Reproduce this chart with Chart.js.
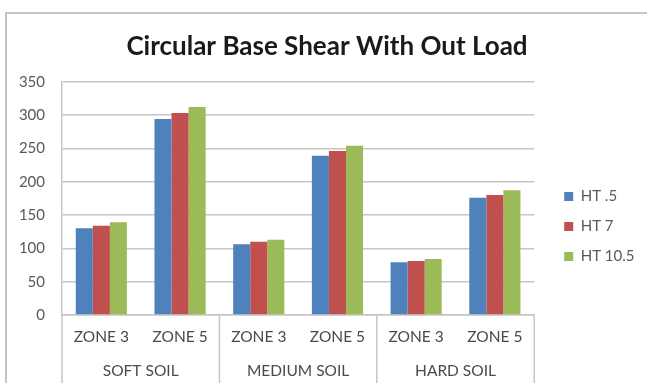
<!DOCTYPE html>
<html>
<head>
<meta charset="utf-8">
<script src="https://cdn.jsdelivr.net/npm/chart.js@4/dist/chart.umd.min.js"></script>
<style>
  html, body { margin: 0; padding: 0; background: #ffffff; }
  #wrap { position: relative; width: 647px; height: 383px; overflow: hidden; }
  #frame { position: absolute; left: 5px; top: 12px; width: 700px; height: 500px;
           border: 2px solid #c4c4c4; box-sizing: border-box; }
  #c { position: absolute; left: 0; top: 0; }
</style>
</head>
<body>
<div id="wrap">
  <div id="frame"></div>
  <canvas id="c" width="647" height="383"></canvas>
</div>
<script>
// Base shear (kN) for circular columns without load
const zones = ['ZONE 3', 'ZONE 5', 'ZONE 3', 'ZONE 5', 'ZONE 3', 'ZONE 5'];
const soils = ['SOFT SOIL', 'MEDIUM SOIL', 'HARD SOIL'];
const ht05  = [130, 294, 106, 239, 79, 176];
const ht7   = [134, 303, 110, 246, 81, 180];
const ht105 = [139, 312, 113, 254, 84, 187];
const yTicks = [0, 50, 100, 150, 200, 250, 300, 350];

const FONT = 'Lato, "Open Sans", sans-serif';
const LINE = '#c6c6c6';

// Separators between soil groups, running from the axis line down through both label rows
const groupDividers = {
  id: 'groupDividers',
  afterDraw(chart) {
    const x = chart.scales.x;
    const area = chart.chartArea;
    const ctx = chart.ctx;
    const per = zones.length / soils.length;
    const half = (x.getPixelForValue(1) - x.getPixelForValue(0)) / 2;
    ctx.save();
    ctx.strokeStyle = LINE;
    ctx.lineWidth = 1.5;
    for (let g = 0; g <= soils.length; g++) {
      const px = g === soils.length
        ? x.getPixelForValue(zones.length - 1) + half
        : x.getPixelForValue(g * per) - half;
      ctx.beginPath();
      ctx.moveTo(px, area.bottom);
      ctx.lineTo(px, chart.height);
      ctx.stroke();
    }
    ctx.restore();
  }
};

new Chart(document.getElementById('c'), {
  type: 'bar',
  data: {
    labels: zones,
    datasets: [
      { label: 'HT .5',   data: ht05,  backgroundColor: '#4f81bd' },
      { label: 'HT 7',    data: ht7,   backgroundColor: '#c0504d' },
      { label: 'HT 10.5', data: ht105, backgroundColor: '#9bbb59' }
    ]
  },
  options: {
    responsive: false,
    animation: false,
    devicePixelRatio: 1,
    layout: { padding: { left: 9.5, right: 2.5, top: 14, bottom: 0 } },
    datasets: { bar: { barPercentage: 1, categoryPercentage: 0.65, borderWidth: 0 } },
    plugins: {
      title: {
        display: true,
        text: 'Circular Base Shear With Out Load',
        color: '#1a1a1a',
        font: { family: FONT, size: 26, weight: 'bold' },
        padding: { top: 17, bottom: 19.5 }
      },
      legend: {
        position: 'right',
        align: 'center',
        title: { display: true, text: ' ', font: { size: 10 }, padding: { top: 44, bottom: 0 } },
        labels: {
          color: '#595959',
          font: { family: FONT, size: 15 },
          boxWidth: 9,
          boxHeight: 9,
          padding: 15
        }
      },
      tooltip: { enabled: false }
    },
    scales: {
      y: {
        min: 0,
        max: 350,
        afterBuildTicks(s) { s.ticks = yTicks.map(v => ({ value: v })); },
        afterFit(s) { s.width = 52.5; },
        grid: { color: LINE, lineWidth: 1.5, drawTicks: false },
        border: { color: LINE, width: 1.5 },
        ticks: { color: '#595959', font: { family: FONT, size: 15 }, padding: 17 }
      },
      x: {
        weight: 0,
        afterFit(s) { s.height = 30; },
        grid: { display: false, drawTicks: false },
        border: { color: LINE, width: 1.5 },
        ticks: { color: '#4a4a4a', font: { family: FONT, size: 15.5 }, padding: 13, maxRotation: 0, autoSkip: false }
      },
      soil: {
        type: 'category',
        position: 'bottom',
        weight: 1,
        labels: soils,
        offset: true,
        afterFit(s) { s.height = 38; },
        grid: { display: false, drawTicks: false },
        border: { display: false },
        ticks: { color: '#4a4a4a', font: { family: FONT, size: 15.5 }, padding: 17, maxRotation: 0, autoSkip: false }
      },
      spacer: {
        type: 'linear',
        position: 'right',
        display: true,
        afterFit(s) { s.width = 15; },
        grid: { display: false, drawTicks: false },
        border: { display: false },
        ticks: { display: false }
      }
    }
  },
  plugins: [groupDividers]
});
</script>
</body>
</html>
